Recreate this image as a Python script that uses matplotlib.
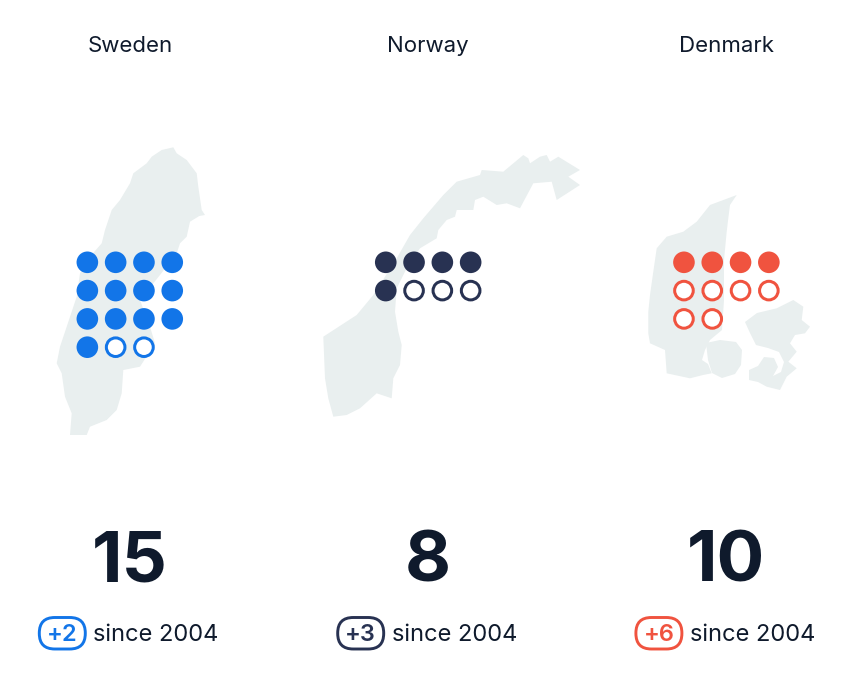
import matplotlib.pyplot as plt
from matplotlib.patches import Circle, Polygon, FancyBboxPatch

plt.rcParams['font.family'] = ['Inter', 'DejaVu Sans']

# данные
countries = ["Sweden", "Norway", "Denmark"]
totals = [15, 8, 10]
changes = [2, 3, 6]
since_year = 2004
colors = ["#1275E8", "#283252", "#F0533F"]

text_color = "#0F1A2C"
map_color = "#E9EFEF"

# контуры стран (пиксели картинки)
sweden_shape = [(151.7, 156.7), (161.7, 150), (173.3, 147.3), (176.7, 153.3), (186.7, 160),
                (196.7, 173.3), (198.3, 186.7), (201.7, 210), (205, 215), (199.3, 216),
                (190, 221.7), (186.7, 236.7), (180, 243.3), (176.7, 253.3), (160, 275),
                (140, 300), (150, 326.7), (155, 343.3), (140, 366.7), (123.3, 370),
                (121.7, 393.3), (116.7, 410), (106.7, 420), (90, 426.7), (86.7, 435),
                (70, 435), (71.7, 413.3), (65, 396.7), (61.7, 373.3), (56.7, 363.3),
                (60, 346.7), (66.7, 326.7), (76.7, 296.7), (80, 273.3), (90, 256.7),
                (101.7, 243.3), (105, 230), (111.7, 210), (120, 200), (130, 183.3),
                (133.3, 173.3), (146.7, 163.3)]
norway_shape = [(323.3, 336.7), (356.7, 315), (373.3, 295), (396.7, 258.3), (410, 235),
                (423.3, 218.3), (443.3, 195), (456.7, 181.7), (480, 175), (481.7, 170),
                (503.3, 171.7), (523.3, 155), (528.3, 158.3), (530, 163.3), (540, 156.7),
                (546.7, 155), (550, 161.7), (558.3, 156.7), (580, 170), (568.3, 176.7),
                (580, 185), (556.7, 200), (551.7, 181.7), (533.3, 183.3), (520, 208.3),
                (506.7, 203.3), (496.7, 205), (483.3, 196.7), (475, 200), (473.3, 210),
                (456.7, 210), (455, 216.7), (446.7, 220), (438.3, 230), (436.7, 238.3),
                (420, 248.3), (406.7, 268.3), (396.7, 288.3), (395, 311.7), (398.3, 331.7),
                (401.7, 345), (400, 365), (393.3, 378.3), (391.7, 398.3), (376.7, 393.3),
                (360, 408.3), (346.7, 415), (333.3, 416.7), (328.3, 398.3), (325, 378.3)]
jutland_shape = [(736.7, 195), (730, 205), (728.3, 218.3), (726.7, 231.7), (724, 260),
                 (724, 300), (722, 330), (710, 340), (705, 350), (702, 360), (708, 364),
                 (711.7, 373.3), (703, 375), (690, 378.3), (666.7, 373.3), (665, 350),
                 (650, 343.3), (648.3, 333.3), (648.3, 311.7), (650, 295), (653.3, 271.7),
                 (656.7, 248.3), (666.7, 236.7), (683.3, 231.7), (696.7, 221.7), (710, 205)]
funen_shape = [(706, 343), (720, 340), (736, 342), (742, 350), (741, 365), (735, 374),
               (722, 378), (712, 373), (708, 360)]
zealand_shape = [(745, 322), (757, 313), (776.7, 308.3), (793.3, 300), (803.3, 306.7),
                 (801.7, 320), (810, 326.7), (805, 333.3), (795, 335), (790, 343.3),
                 (796.7, 351.7), (788.3, 361.7), (796.7, 368.3), (786.7, 376.7), (780, 390),
                 (766.7, 386.7), (758, 382), (749, 380), (749, 370), (758, 366),
                 (764, 357), (774, 358), (778, 367), (773, 376), (781, 372), (784, 362),
                 (779, 352), (768, 348), (756, 345), (750, 333)]
shapes = [[sweden_shape], [norway_shape], [jutland_shape, funen_shape, zealand_shape]]

W, H = 856, 691
fig = plt.figure(figsize=(W / 100, H / 100), dpi=100)
ax = fig.add_axes([0, 0, 1, 1])
ax.set_xlim(0, W)
ax.set_ylim(H, 0)
ax.axis('off')

col_x = [129.8, 428.2, 726.4]
step = 28.3
r = 10.8
ring = 3.0

for i in range(len(countries)):
    cx = col_x[i]
    c = colors[i]
    for sh in shapes[i]:
        ax.add_patch(Polygon(sh, closed=True, fc=map_color, ec='none', zorder=1))

    ax.text(cx, 52, countries[i], ha='center', va='baseline', fontsize=16,
            color=text_color)

    # точки: заполненные - было в 2004, пустые - прибавилось
    old = totals[i] - changes[i]
    for k in range(totals[i]):
        x = cx - 1.5 * step + (k % 4) * step
        y = 262.3 + (k // 4) * step
        if k < old:
            ax.add_patch(Circle((x, y), r, fc=c, ec='none', zorder=3))
        else:
            ax.add_patch(Circle((x, y), r - ring / 2, fc='white', ec=c,
                                lw=ring * 0.72, zorder=3))

    ax.text(cx, 582, str(totals[i]), ha='center', va='baseline', fontsize=51,
            fontweight='bold', color=text_color)

    bx = cx - 67.5
    ax.add_patch(FancyBboxPatch((bx - 23, 617.5), 46, 31.5,
                                boxstyle="round,pad=0,rounding_size=15.5",
                                fc='white', ec=c, lw=2.1, zorder=3))
    ax.text(bx, 641, "+" + str(changes[i]), ha='center', va='baseline', fontsize=17,
            fontweight='semibold', color=c, zorder=4)
    ax.text(cx - 36.5, 641, "since " + str(since_year), ha='left', va='baseline',
            fontsize=17, color=text_color)

plt.savefig("out.png", dpi=100, facecolor='white')
